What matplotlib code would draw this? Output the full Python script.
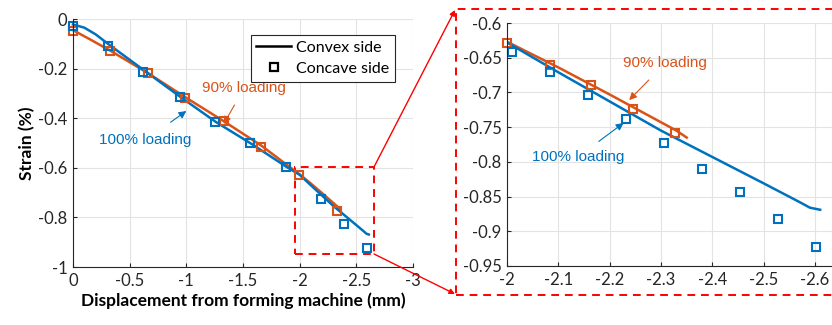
import matplotlib.pyplot as plt
from matplotlib.lines import Line2D
from matplotlib.patches import Rectangle, FancyArrowPatch

plt.rcParams['font.family'] = ['Lato', 'DejaVu Sans']

# convex side (lines)
x100_line = [0, -0.1, -0.2, -0.32, -0.63, -0.95, -1.26, -1.58, -1.89, -2.0, -2.1, -2.2, -2.3, -2.4, -2.5, -2.57, -2.59, -2.61]
y100_line = [-0.022, -0.035, -0.062, -0.104, -0.208, -0.315, -0.415, -0.505, -0.598, -0.628, -0.671, -0.713, -0.755, -0.793, -0.831, -0.858, -0.866, -0.869]
x90_line = [0, -0.15, -0.33, -0.66, -1.0, -1.33, -1.66, -2.0, -2.1, -2.2, -2.3, -2.33, -2.35]
y90_line = [-0.045, -0.082, -0.128, -0.218, -0.318, -0.412, -0.51, -0.627, -0.664, -0.703, -0.743, -0.755, -0.765]

# concave side (squares), full view
x100_sq = [0, -0.31, -0.62, -0.94, -1.25, -1.56, -1.88, -2.19, -2.39, -2.59]
y100_sq = [-0.028, -0.108, -0.214, -0.315, -0.414, -0.499, -0.596, -0.726, -0.825, -0.925]
x90_sq = [0, -0.33, -0.66, -0.99, -1.33, -1.66, -1.99, -2.33]
y90_sq = [-0.048, -0.129, -0.219, -0.32, -0.41, -0.515, -0.629, -0.773]

# concave side (squares), zoomed view
x100_zsq = [-2.01, -2.084, -2.158, -2.232, -2.305, -2.379, -2.453, -2.527, -2.601]
y100_zsq = [-0.642, -0.671, -0.704, -0.738, -0.773, -0.81, -0.844, -0.882, -0.923]
x90_zsq = [-2.0, -2.083, -2.164, -2.246, -2.328]
y90_zsq = [-0.629, -0.66, -0.69, -0.724, -0.759]

blue = '#0072BD'
orange = '#D95319'
W, H = 832, 325

fig = plt.figure(figsize=(W / 100, H / 100), dpi=100)
ax1 = fig.add_axes([73 / W, 1 - 267 / H, 340 / W, 248 / H])
ax2 = fig.add_axes([507 / W, 1 - 266 / H, 325 / W, 243 / H])


def style(ax):
    ax.grid(True, color='#e3e3e3', lw=0.8)
    ax.set_axisbelow(True)
    for s in ['top', 'right']:
        ax.spines[s].set_visible(False)
    for s in ['left', 'bottom']:
        ax.spines[s].set_color('#262626')
        ax.spines[s].set_linewidth(0.8)
    ax.tick_params(direction='in', length=3, labelsize=12, colors='#262626', pad=4)


def draw(ax, sq100x, sq100y, sq90x, sq90y, clip):
    ax.plot(x90_line, y90_line, color=orange, lw=1.8, clip_on=clip)
    ax.plot(x100_line, y100_line, color=blue, lw=1.8, clip_on=clip)
    ax.plot(sq90x, sq90y, ls='none', marker='s', ms=6, mfc='none', mec=orange, mew=1.5, clip_on=False)
    ax.plot(sq100x, sq100y, ls='none', marker='s', ms=6, mfc='none', mec=blue, mew=1.5, clip_on=False)


# ---- full view
style(ax1)
draw(ax1, x100_sq, y100_sq, x90_sq, y90_sq, False)
ax1.set_xlim(0, -3)
ax1.set_ylim(-1, 0)
xt = [0, -0.5, -1, -1.5, -2, -2.5, -3]
yt = [0, -0.2, -0.4, -0.6, -0.8, -1]
ax1.set_xticks(xt, [f'{v:g}' for v in xt])
ax1.set_yticks(yt, [f'{v:g}' for v in yt])
ax1.set_xlabel('Displacement from forming machine (mm)', fontsize=12.5, fontweight='bold', labelpad=3)
ax1.set_ylabel('Strain (%)', fontsize=12.5, fontweight='bold', labelpad=2)

ax1.annotate('90% loading', xy=(-1.33, -0.423), xytext=(-1.51, -0.278), color=orange,
             fontsize=11, family='Liberation Sans', ha='center', va='center',
             arrowprops=dict(arrowstyle='-|>', color=orange, lw=0.8, shrinkA=6, shrinkB=0))
ax1.annotate('100% loading', xy=(-1.0, -0.371), xytext=(-0.64, -0.488), color=blue,
             fontsize=11, family='Liberation Sans', ha='center', va='center',
             arrowprops=dict(arrowstyle='-|>', color=blue, lw=0.8, shrinkA=10, shrinkB=0))

leg_handles = [Line2D([], [], color='black', lw=1.8),
               Line2D([], [], ls='none', marker='s', ms=6, mfc='none', mec='black', mew=1.6)]
leg = ax1.legend(leg_handles, ['Convex side', 'Concave side'], loc='upper right',
                 bbox_to_anchor=(0.97, 0.968), fontsize=11.5, fancybox=False,
                 edgecolor='#262626', framealpha=1, borderpad=0.35, handlelength=2.2,
                 handletextpad=0.3, labelspacing=0.45)
leg.get_frame().set_linewidth(0.8)

ax1.add_patch(Rectangle((-1.96, -0.948), -0.70, 0.351, fill=False, ec='red', lw=1.4,
                        ls=(0, (4, 3)), clip_on=False))

# ---- zoomed view
style(ax2)
draw(ax2, x100_zsq, y100_zsq, x90_zsq, y90_zsq, True)
ax2.set_xlim(-2, -2.633)
ax2.set_ylim(-0.95, -0.6)
xt2 = [-2, -2.1, -2.2, -2.3, -2.4, -2.5, -2.6]
yt2 = [-0.6, -0.65, -0.7, -0.75, -0.8, -0.85, -0.9, -0.95]
ax2.set_xticks(xt2, [f'{v:g}' for v in xt2])
ax2.set_yticks(yt2, [f'{v:g}' for v in yt2])

ax2.annotate('90% loading', xy=(-2.238, -0.711), xytext=(-2.308, -0.658), color=orange,
             fontsize=11, family='Liberation Sans', ha='center', va='center',
             arrowprops=dict(arrowstyle='-|>', color=orange, lw=0.8, shrinkA=7, shrinkB=0))
ax2.annotate('100% loading', xy=(-2.227, -0.744), xytext=(-2.138, -0.793), color=blue,
             fontsize=11, family='Liberation Sans', ha='center', va='center',
             arrowprops=dict(arrowstyle='-|>', color=blue, lw=0.8, shrinkA=7, shrinkB=0))

# zoom frame and connectors, figure pixel coordinates
fig.add_artist(Rectangle((456 / W, 1 - 295 / H), 380 / W, 286 / H, fill=False, ec='red', lw=1.4,
                         ls=(0, (4, 3)), transform=fig.transFigure))
for (x0, y0), (x1, y1) in [((374, 167), (455, 10)), ((374, 254), (455, 294))]:
    fig.add_artist(FancyArrowPatch((x0 / W, 1 - y0 / H), (x1 / W, 1 - y1 / H), transform=fig.transFigure,
                                   arrowstyle='-|>', mutation_scale=8, color='red', lw=1.0,
                                   shrinkA=0, shrinkB=0))

fig.savefig('out.png', dpi=100)
